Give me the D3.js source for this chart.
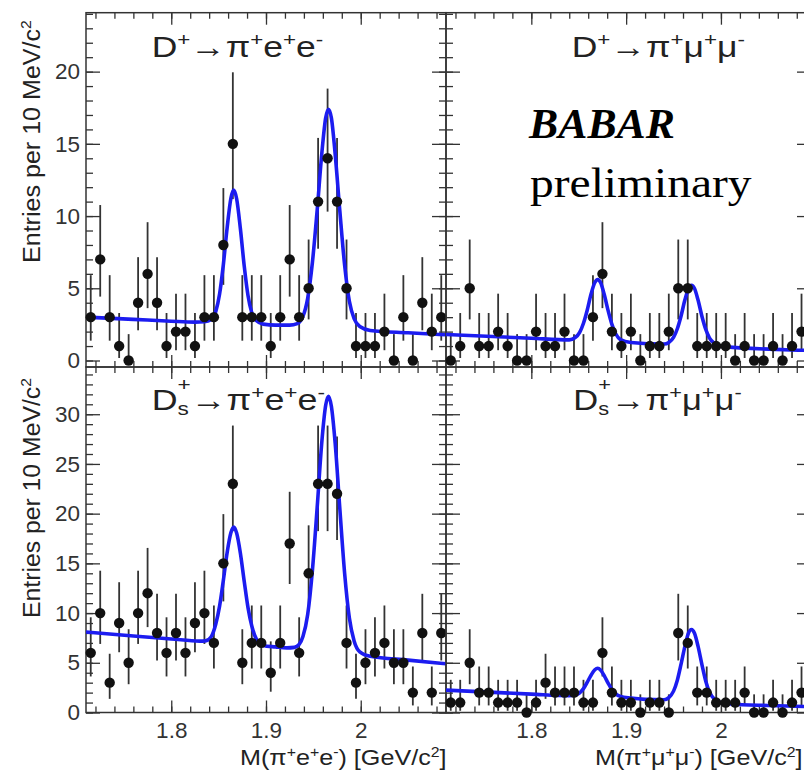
<!DOCTYPE html>
<html>
<head>
<meta charset="utf-8">
<script src="https://cdn.jsdelivr.net/npm/d3@7"></script>
<style>
  body { margin: 0; background: #fff; }
  svg { display: block; font-family: "Liberation Sans", Arial, sans-serif; }
</style>
</head>
<body>
<svg id="chart" width="804" height="770"></svg>
<script>
// ---- Data --------------------------------------------------------------
// Bin centres of the 10 MeV/c^2 invariant-mass histograms (GeV/c^2)
const binCenters = [1.715, 1.725, 1.735, 1.745, 1.755, 1.765, 1.775, 1.785, 1.795, 1.805,
                    1.815, 1.825, 1.835, 1.845, 1.855, 1.865, 1.875, 1.885, 1.895, 1.905,
                    1.915, 1.925, 1.935, 1.945, 1.955, 1.965, 1.975, 1.985, 1.995, 2.005,
                    2.015, 2.025, 2.035, 2.045, 2.055, 2.065, 2.075, 2.085];

// Entries per bin
const countsDpEE   = [3, 7, 3, 1, 0, 4, 6, 4, 1, 2, 2, 1, 3, 3, 8, 15, 3, 3, 3, 1,
                      3, 7, 3, 5, 11, 14, 11, 5, 1, 1, 1, 2, 0, 3, 0, 4, 2, 3];
const countsDpMuMu = [0, 1, 5, 1, 1, 2, 1, 0, 0, 2, 1, 1, 2, 0, 0, 3, 6, 2, 1, 2,
                      0, 1, 1, 2, 5, 5, 1, 1, 1, 1, 0, 1, 0, 0, 1, 0, 1, 2];
const countsDsEE   = [6, 10, 3, 9, 5, 10, 12, 8, 6, 8, 6, 9, 10, 7, 15, 23, 5, 7, 7, 4,
                      7, 17, 6, 14, 23, 23, 22, 7, 3, 5, 6, 7, 5, 5, 2, 8, 2, 8];
const countsDsMuMu = [1, 1, 5, 2, 2, 1, 1, 1, 0, 1, 3, 2, 2, 2, 1, 1, 6, 2, 1, 1,
                      0, 1, 1, 0, 8, 7, 2, 2, 1, 1, 1, 2, 0, 0, 1, 0, 1, 2];

// Fit curves sampled as [mass, entries]
const fitDpEE = [[1.710,3.00],[1.760,2.85],[1.800,2.72],[1.825,2.66],[1.835,2.68],[1.842,2.82],
  [1.847,3.40],[1.851,4.60],[1.855,6.65],[1.859,9.20],[1.863,11.25],[1.866,11.80],[1.869,11.20],
  [1.873,9.10],[1.877,6.55],[1.881,4.50],[1.885,3.30],[1.890,2.75],[1.897,2.52],[1.910,2.45],
  [1.925,2.45],[1.933,2.55],[1.939,3.05],[1.944,4.30],[1.949,6.80],[1.954,10.40],[1.959,14.40],
  [1.963,16.80],[1.966,17.40],[1.969,16.80],[1.973,14.30],[1.978,10.30],[1.983,6.60],[1.988,4.10],
  [1.993,2.90],[1.999,2.35],[2.010,2.08],[2.050,1.92],[2.090,1.78]];

const fitDpMuMu = [[1.710,1.80],[1.800,1.54],[1.840,1.43],[1.846,1.57],[1.851,1.95],[1.855,2.58],
  [1.859,3.50],[1.863,4.60],[1.867,5.40],[1.870,5.60],[1.873,5.40],[1.877,4.55],[1.881,3.45],
  [1.885,2.50],[1.889,1.85],[1.894,1.45],[1.905,1.25],[1.940,1.14],[1.945,1.25],[1.950,1.60],
  [1.954,2.20],[1.958,3.10],[1.962,4.20],[1.966,5.00],[1.969,5.20],[1.972,5.00],[1.976,4.15],
  [1.980,3.05],[1.984,2.15],[1.988,1.55],[1.993,1.20],[2.000,0.98],[2.090,0.70],[2.100,0.68]];

const fitDsEE = [[1.710,8.10],[1.760,7.70],[1.800,7.40],[1.830,7.18],[1.836,7.20],[1.842,7.60],
  [1.847,8.90],[1.851,10.70],[1.855,13.30],[1.859,16.10],[1.863,18.10],[1.866,18.65],[1.869,18.05],
  [1.873,16.00],[1.877,13.20],[1.881,10.55],[1.885,8.70],[1.890,7.35],[1.897,6.75],[1.910,6.60],
  [1.922,6.50],[1.930,6.55],[1.935,6.85],[1.939,7.65],[1.944,9.85],[1.949,14.30],[1.954,20.60],
  [1.959,27.30],[1.963,30.90],[1.966,31.80],[1.969,30.80],[1.973,27.10],[1.978,20.40],[1.983,14.00],
  [1.988,9.50],[1.993,7.20],[1.999,6.10],[2.010,5.65],[2.050,5.27],[2.090,4.90]];

const fitDsMuMu = [[1.710,2.25],[1.800,1.85],[1.840,1.70],[1.846,1.75],[1.851,1.98],[1.855,2.40],
  [1.859,3.05],[1.863,3.75],[1.867,4.30],[1.870,4.45],[1.873,4.27],[1.877,3.68],[1.881,2.95],
  [1.885,2.30],[1.889,1.88],[1.894,1.62],[1.905,1.45],[1.920,1.32],[1.940,1.28],[1.945,1.50],
  [1.950,2.15],[1.954,3.25],[1.958,4.90],[1.962,6.65],[1.966,8.05],[1.969,8.35],[1.972,8.00],
  [1.976,6.60],[1.980,4.80],[1.984,3.15],[1.988,2.05],[1.993,1.35],[1.999,1.00],[2.010,0.85],
  [2.050,0.70],[2.090,0.60],[2.100,0.58]];

// Axis ticks
const xMajorTicks   = [1.8, 1.9, 2.0];
const xTickLabels   = ["1.8", "1.9", "2"];
const yMajorTop     = [0, 5, 10, 15, 20];
const yMajorBottom  = [0, 5, 10, 15, 20, 25, 30];

// ---- Helpers -----------------------------------------------------------
// 68.3% central Poisson interval (Wilson-Hilferty form of the Garwood limits)
function poissonInterval(n) {
  const lo = n === 0 ? 0 : n * Math.pow(1 - 1 / (9 * n) - 1 / (3 * Math.sqrt(n)), 3);
  const m = n + 1;
  const hi = m * Math.pow(1 - 1 / (9 * m) + 1 / (3 * Math.sqrt(m)), 3);
  return [lo, hi];
}

// Rich text with ROOT-style super/subscripts
function rich(t, parts, fs) {
  let cur = 0;
  parts.forEach(p => {
    const target = p.k === "sup" ? -0.37 * fs : p.k === "sub" ? 0.17 * fs
                 : p.k === "stack" ? -0.63 * fs : 0;
    const ts = t.append("tspan").text(p.t)
      .attr("dy", (target - cur).toFixed(2))
      .attr("font-size", p.k ? 0.63 * fs : fs);
    if (p.dx) ts.attr("dx", p.dx * fs);
    cur = target;
  });
}

// Place a text block so that its left edge is at `left` and it spans `width`
function placeText(parent, build, left, baseline, width) {
  const g = parent.append("g");
  const t = g.append("text");
  build(t);
  const bb = t.node().getBBox();
  const s = width ? width / bb.width : 1;
  g.attr("transform", `translate(${left - bb.x * s},${baseline}) scale(${s},1)`);
  return { g, s, w: bb.width };
}

// ---- Layout ------------------------------------------------------------
const svg = d3.select("#chart");
const ink = "#333";
const fitBlue = "#1c1cf0";

const colX = [[86, 446], [446, 811]];
const colDomain = [[1.71, 2.09], [1.71, 2.095]];
const rowY = [[367, 12.7], [712.5, 367]];
const rowDomain = [[-0.45, 24.08], [0, 34.75]];

const panels = [
  { col: 0, row: 0, counts: countsDpEE,   fit: fitDpEE,   yMajor: yMajorTop },
  { col: 1, row: 0, counts: countsDpMuMu, fit: fitDpMuMu, yMajor: yMajorTop },
  { col: 0, row: 1, counts: countsDsEE,   fit: fitDsEE,   yMajor: yMajorBottom },
  { col: 1, row: 1, counts: countsDsMuMu, fit: fitDsMuMu, yMajor: yMajorBottom }
];

const defs = svg.append("defs");

panels.forEach((p, i) => {
  const x = d3.scaleLinear().domain(colDomain[p.col]).range(colX[p.col]);
  const y = d3.scaleLinear().domain(rowDomain[p.row]).range(rowY[p.row]);
  const [x0, x1] = colX[p.col];
  const [yb, yt] = rowY[p.row];
  const g = svg.append("g");

  defs.append("clipPath").attr("id", "clip" + i)
    .append("rect").attr("x", x0).attr("y", yt).attr("width", x1 - x0).attr("height", yb - yt);

  // axes (ticks on all four sides, pointing inward)
  const yMinor = d3.range(0, Math.floor(rowDomain[p.row][1]) + 1);
  const xMinor = d3.range(1.72, 2.095, 0.02);
  const style = sel => {
    sel.select(".domain").remove();
    sel.attr("color", ink).attr("font-size", 22.5)
       .attr("font-family", '"Liberation Sans", Arial, sans-serif');
    sel.selectAll("line").attr("stroke-width", 1.3);
  };
  const labelY = p.col === 0;
  const labelX = p.row === 1;

  g.append("g").attr("transform", `translate(${x0},0)`)
    .call(d3.axisLeft(y).tickValues(p.yMajor).tickSize(-14).tickSizeOuter(0).tickPadding(6)
      .tickFormat(labelY ? d3.format("d") : ""))
    .call(style);
  g.append("g").attr("transform", `translate(${x0},0)`)
    .call(d3.axisLeft(y).tickValues(yMinor).tickSize(-7).tickSizeOuter(0).tickFormat(""))
    .call(style);
  g.append("g").attr("transform", `translate(${x1},0)`)
    .call(d3.axisRight(y).tickValues(p.yMajor).tickSize(-14).tickSizeOuter(0).tickFormat(""))
    .call(style);
  g.append("g").attr("transform", `translate(${x1},0)`)
    .call(d3.axisRight(y).tickValues(yMinor).tickSize(-7).tickSizeOuter(0).tickFormat(""))
    .call(style);

  g.append("g").attr("transform", `translate(0,${yb})`)
    .call(d3.axisBottom(x).tickValues(xMajorTicks).tickSize(-12).tickSizeOuter(0).tickPadding(10)
      .tickFormat(labelX ? (d, k) => xTickLabels[k] : ""))
    .call(style);
  g.append("g").attr("transform", `translate(0,${yb})`)
    .call(d3.axisBottom(x).tickValues(xMinor).tickSize(-6).tickSizeOuter(0).tickFormat(""))
    .call(style);
  g.append("g").attr("transform", `translate(0,${yt})`)
    .call(d3.axisTop(x).tickValues(xMajorTicks).tickSize(-12).tickSizeOuter(0).tickFormat(""))
    .call(style);
  g.append("g").attr("transform", `translate(0,${yt})`)
    .call(d3.axisTop(x).tickValues(xMinor).tickSize(-6).tickSizeOuter(0).tickFormat(""))
    .call(style);

  // frame
  g.append("rect").attr("x", x0).attr("y", yt).attr("width", x1 - x0).attr("height", yb - yt)
    .attr("fill", "none").attr("stroke", ink).attr("stroke-width", 1.5);

  // error bars
  const pts = p.counts.map((n, k) => ({ m: binCenters[k], n, e: poissonInterval(n) }));
  g.append("g").attr("stroke", ink).attr("stroke-width", 1.8)
    .selectAll("line").data(pts).join("line")
    .attr("x1", d => x(d.m)).attr("x2", d => x(d.m))
    .attr("y1", d => y(d.e[0])).attr("y2", d => y(d.e[1]));

  // fit
  g.append("path").datum(p.fit)
    .attr("clip-path", `url(#clip${i})`)
    .attr("fill", "none").attr("stroke", fitBlue).attr("stroke-width", 3.6)
    .attr("stroke-linejoin", "round")
    .attr("d", d3.line().x(d => x(d[0])).y(d => y(d[1])).curve(d3.curveMonotoneX));

  // data points
  g.append("g").selectAll("circle").data(pts).join("circle")
    .attr("cx", d => x(d.m)).attr("cy", d => y(d.n)).attr("r", 5.2).attr("fill", "#111");
});

// ---- Text --------------------------------------------------------------
const txt = svg.append("g").attr("fill", "#222");
const fsT = 30;

placeText(txt, t => rich(t, [{t: "D"}, {t: "+", k: "sup"}, {t: "\u2192\u03c0"}, {t: "+", k: "sup"},
  {t: "e"}, {t: "+", k: "sup"}, {t: "e"}, {t: "-", k: "sup"}], fsT), 151.7, 56.7, 171.6);
placeText(txt, t => rich(t, [{t: "D"}, {t: "+", k: "sup"}, {t: "\u2192\u03c0"}, {t: "+", k: "sup"},
  {t: "\u03bc"}, {t: "+", k: "sup"}, {t: "\u03bc"}, {t: "-", k: "sup"}], fsT), 571.7, 56.7, 173.3);
placeText(txt, t => rich(t, [{t: "D"}, {t: "s", k: "sub"}, {t: "+", k: "stack", dx: -0.315},
  {t: "\u2192\u03c0"}, {t: "+", k: "sup"}, {t: "e"}, {t: "+", k: "sup"}, {t: "e"},
  {t: "-", k: "sup"}], fsT), 151.7, 410, 173.3);
placeText(txt, t => rich(t, [{t: "D"}, {t: "s", k: "sub"}, {t: "+", k: "stack", dx: -0.315},
  {t: "\u2192\u03c0"}, {t: "+", k: "sup"}, {t: "\u03bc"}, {t: "+", k: "sup"}, {t: "\u03bc"},
  {t: "-", k: "sup"}], fsT), 573.3, 410, 168.4);

// Experiment tag
const serif = '"Liberation Serif", "Times New Roman", serif';
placeText(txt, t => t.text("BABAR").attr("font-family", serif).attr("font-size", 42)
  .attr("font-weight", "bold").attr("font-style", "italic").attr("fill", "#000"), 528, 138.3, 147);
placeText(txt, t => t.text("preliminary").attr("font-family", serif).attr("font-size", 42)
  .attr("fill", "#000"), 530, 196.7, 221.7);

// Axis titles
const xTitle = placeText(txt, t => rich(t, [{t: "M(\u03c0"}, {t: "+", k: "sup"}, {t: "e"},
  {t: "+", k: "sup"}, {t: "e"}, {t: "-", k: "sup"}, {t: ") [GeV/c"}, {t: "2", k: "sup"}, {t: "]"}], 22),
  240, 765, 206.7);
const xTitle2 = placeText(txt, t => rich(t, [{t: "M(\u03c0"}, {t: "+", k: "sup"}, {t: "\u03bc"},
  {t: "+", k: "sup"}, {t: "\u03bc"}, {t: "-", k: "sup"}, {t: ") [GeV/c"}, {t: "2", k: "sup"}, {t: "]"}], 22),
  595, 765, null);
xTitle2.g.attr("transform", xTitle2.g.attr("transform").replace("scale(1,1)", `scale(${xTitle.s},1)`));

function yTitle(startY, endY) {
  const g = txt.append("g");
  const t = g.append("text");
  rich(t, [{t: "Entries per 10 MeV/c"}, {t: "2", k: "sup"}], 24);
  const bb = t.node().getBBox();
  const s = (startY - endY) / bb.width;
  g.attr("transform", `translate(40,${startY}) rotate(-90) scale(${s},1) translate(${-bb.x},0)`);
}
yTitle(263, 20);
yTitle(618, 378);
</script>
</body>
</html>
